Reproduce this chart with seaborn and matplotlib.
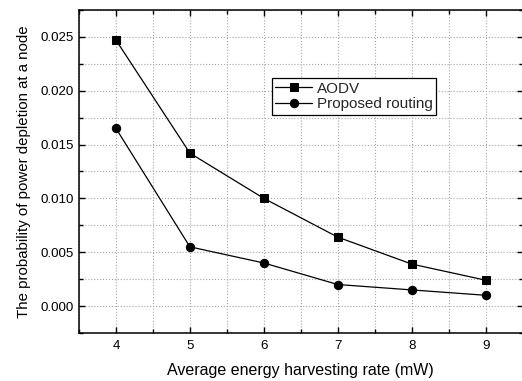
import matplotlib
matplotlib.use('Agg')
import matplotlib.pyplot as plt
from matplotlib.ticker import MultipleLocator
import pandas as pd
import seaborn as sns

rates = [4, 5, 6, 7, 8, 9]
aodv = [0.0247, 0.0142, 0.0100, 0.0064, 0.0039, 0.0024]
proposed = [0.0165, 0.0055, 0.0040, 0.0020, 0.0015, 0.0010]
series = ['AODV', 'Proposed routing']

sns.set_theme(style='ticks')
plt.rcParams['font.family'] = ['Liberation Sans', 'DejaVu Sans']

data = pd.DataFrame({
    'rate': rates * 2,
    'prob': aodv + proposed,
    'scheme': [series[0]] * len(rates) + [series[1]] * len(rates),
})

fig = plt.figure(figsize=(5.22, 3.81), dpi=100)
ax = fig.add_axes([0.1513, 0.126, 0.85, 0.848])

sns.lineplot(data=data, x='rate', y='prob', style='scheme', ax=ax,
             markers={series[0]: 's', series[1]: 'o'}, dashes=False,
             color='black', linewidth=0.9, markersize=6,
             markeredgecolor='black', markerfacecolor='black')

ax.set_xlim(3.5, 9.5)
ax.set_ylim(-0.0025, 0.0275)
ax.xaxis.set_major_locator(MultipleLocator(1))
ax.xaxis.set_minor_locator(MultipleLocator(0.5))
ax.yaxis.set_major_locator(MultipleLocator(0.005))
ax.yaxis.set_minor_locator(MultipleLocator(0.0025))
ax.yaxis.set_major_formatter(plt.FormatStrFormatter('%.3f'))

ax.grid(True, which='both', linestyle=':', color='#a8a8a8', linewidth=0.8)
ax.tick_params(which='both', direction='in', top=True, right=True,
               labelsize=9.6, colors='black', width=1)
ax.tick_params(axis='x', pad=5)
ax.tick_params(which='major', length=4)
ax.tick_params(which='minor', length=3)
for s in ax.spines.values():
    s.set_color('black')
    s.set_linewidth(1.1)

ax.set_xlabel('Average energy harvesting rate (mW)', fontsize=11.5,
              color='black', labelpad=8)
ax.set_ylabel('The probability of power depletion at a node', fontsize=10.8,
              color='black', labelpad=7)

leg = ax.legend(loc='upper left', bbox_to_anchor=(0.434, 0.79), fontsize=11,
                frameon=True, fancybox=False, handlelength=2.4,
                borderpad=0.25, labelspacing=0.1, handletextpad=0.3,
                borderaxespad=0)
leg.get_frame().set_edgecolor('black')
leg.get_frame().set_linewidth(0.9)
leg.get_frame().set_alpha(1)

fig.savefig('out.png', dpi=100)
